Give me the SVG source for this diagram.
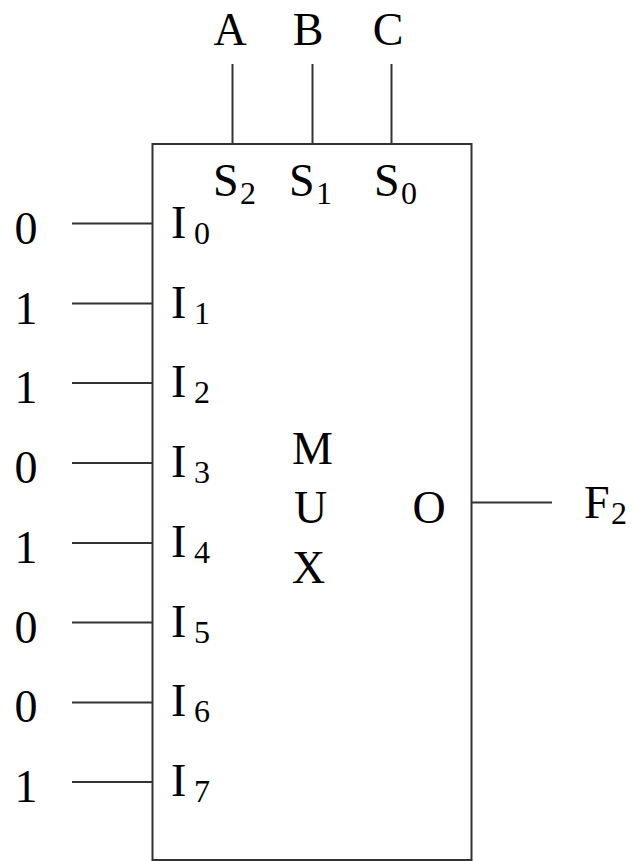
<svg xmlns="http://www.w3.org/2000/svg" width="633" height="861" viewBox="0 0 633 861">
<style>
.t{font-family:"Liberation Serif","Times New Roman",serif;font-size:46px;fill:#000}
.s{font-family:"Liberation Serif","Times New Roman",serif;font-size:32px;fill:#000}
.m{text-anchor:middle}
.w{stroke:#333;stroke-width:2;fill:none}
</style>
<rect width="633" height="861" fill="#fff"/>
<g id="mux">
<rect class="w" x="152.5" y="144" width="319" height="716"/>
<text class="t" x="292" y="464">M</text>
<text class="t" x="294" y="523">U</text>
<text class="t" x="292" y="583">X</text>
<text class="t m" x="429" y="523">O</text>
<text class="t" x="213" y="196">S</text><text class="s" x="240" y="204">2</text>
<text class="t" x="289" y="196">S</text><text class="s" x="316" y="204">1</text>
<text class="t" x="374" y="196">S</text><text class="s" x="401" y="204">0</text>
<text class="t" x="171" y="238">I</text><text class="s" x="194" y="244">0</text>
<text class="t" x="171" y="318">I</text><text class="s" x="194" y="324">1</text>
<text class="t" x="171" y="397">I</text><text class="s" x="194" y="403">2</text>
<text class="t" x="171" y="477">I</text><text class="s" x="194" y="483">3</text>
<text class="t" x="171" y="557">I</text><text class="s" x="194" y="563">4</text>
<text class="t" x="171" y="637">I</text><text class="s" x="194" y="643">5</text>
<text class="t" x="171" y="716">I</text><text class="s" x="194" y="722">6</text>
<text class="t" x="171" y="796">I</text><text class="s" x="194" y="802">7</text>
</g>
<g id="sel">
<text class="t m" x="230" y="45">A</text>
<text class="t m" x="308" y="45">B</text>
<text class="t m" x="388" y="45">C</text>
</g>
<g id="inputs">
<text class="t m" x="26" y="244">0</text>
<text class="t m" x="26" y="324">1</text>
<text class="t m" x="26" y="403">1</text>
<text class="t m" x="26" y="483">0</text>
<text class="t m" x="26" y="563">1</text>
<text class="t m" x="26" y="643">0</text>
<text class="t m" x="26" y="722">0</text>
<text class="t m" x="26" y="802">1</text>
</g>
<g id="out">
<text class="t" x="584" y="518">F</text><text class="s" x="611" y="524">2</text>
</g>
<g id="connectors" class="w">
<line x1="232.5" y1="64" x2="232.5" y2="144"/>
<line x1="312.5" y1="64" x2="312.5" y2="144"/>
<line x1="391.5" y1="64" x2="391.5" y2="144"/>
<line x1="72" y1="223.5" x2="152.5" y2="223.5"/>
<line x1="72" y1="303.5" x2="152.5" y2="303.5"/>
<line x1="72" y1="383" x2="152.5" y2="383"/>
<line x1="72" y1="463" x2="152.5" y2="463"/>
<line x1="72" y1="543" x2="152.5" y2="543"/>
<line x1="72" y1="622.5" x2="152.5" y2="622.5"/>
<line x1="72" y1="702.5" x2="152.5" y2="702.5"/>
<line x1="72" y1="782" x2="152.5" y2="782"/>
<line x1="471.5" y1="502.5" x2="552" y2="502.5"/>
</g>
</svg>
